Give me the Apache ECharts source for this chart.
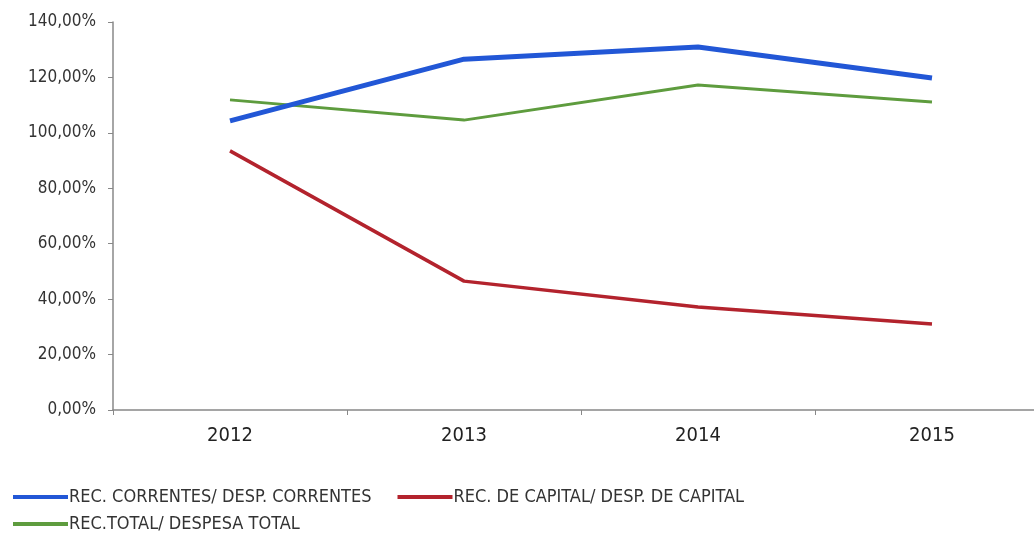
<!DOCTYPE html>
<html><head><meta charset="utf-8">
<script src="https://cdn.jsdelivr.net/npm/echarts@6/dist/echarts.min.js"></script>
<style>html,body{margin:0;padding:0;background:#fff;overflow:hidden}#c{width:1050px;height:533px}</style>
</head><body><div id="c"></div>
<script>
const years = ['2012','2013','2014','2015'];
const correntes = [104.3, 126.6, 131.0, 119.8];
const capital = [93.5, 46.5, 37.2, 31.0];
const total = [111.9, 104.6, 117.3, 111.1];
const names = ['REC. CORRENTES/ DESP. CORRENTES','REC. DE CAPITAL/ DESP. DE CAPITAL','REC.TOTAL/ DESPESA TOTAL'];
const FONT = "'Liberation Sans Narrow','DejaVu Sans Condensed','Liberation Sans',sans-serif";
const chart = echarts.init(document.getElementById('c'));
const legendCommon = {icon:'rect', itemWidth:55, itemHeight:4,
  textStyle:{fontFamily:FONT, fontSize:18, color:'#333', padding:[0,0,0,-4]}};
chart.setOption({
  animation:false,
  grid:{left:113, top:22, width:936, height:388},
  legend:[
    Object.assign({left:8, top:483, data:[names[0], names[1]], itemGap:26}, legendCommon),
    Object.assign({left:8, top:510, data:[names[2]]}, legendCommon)
  ],
  xAxis:{type:'category', data:years, boundaryGap:true,
    axisLine:{lineStyle:{color:'#888', width:1.5}},
    axisTick:{show:true, length:5, lineStyle:{color:'#888'}},
    axisLabel:{fontFamily:FONT, fontSize:20, color:'#222', margin:16}},
  yAxis:{type:'value', min:0, max:140, interval:20,
    splitLine:{show:false},
    axisLine:{show:true, lineStyle:{color:'#888', width:1.5}},
    axisTick:{show:true, length:5, lineStyle:{color:'#888'}},
    axisLabel:{fontFamily:FONT, fontSize:17, color:'#333', margin:17,
      formatter:v=>v.toFixed(2).replace('.',',')+'%'}},
  series:[
    {name:names[0], type:'line', data:correntes, symbol:'none', lineStyle:{color:'#2257d6', width:5}, itemStyle:{color:'#2257d6'}, z:3},
    {name:names[1], type:'line', data:capital, symbol:'none', lineStyle:{color:'#b3232d', width:3.5}, itemStyle:{color:'#b3232d'}},
    {name:names[2], type:'line', data:total, symbol:'none', lineStyle:{color:'#5e9c3e', width:3}, itemStyle:{color:'#5e9c3e'}, z:2}
  ]
});
</script></body></html>
